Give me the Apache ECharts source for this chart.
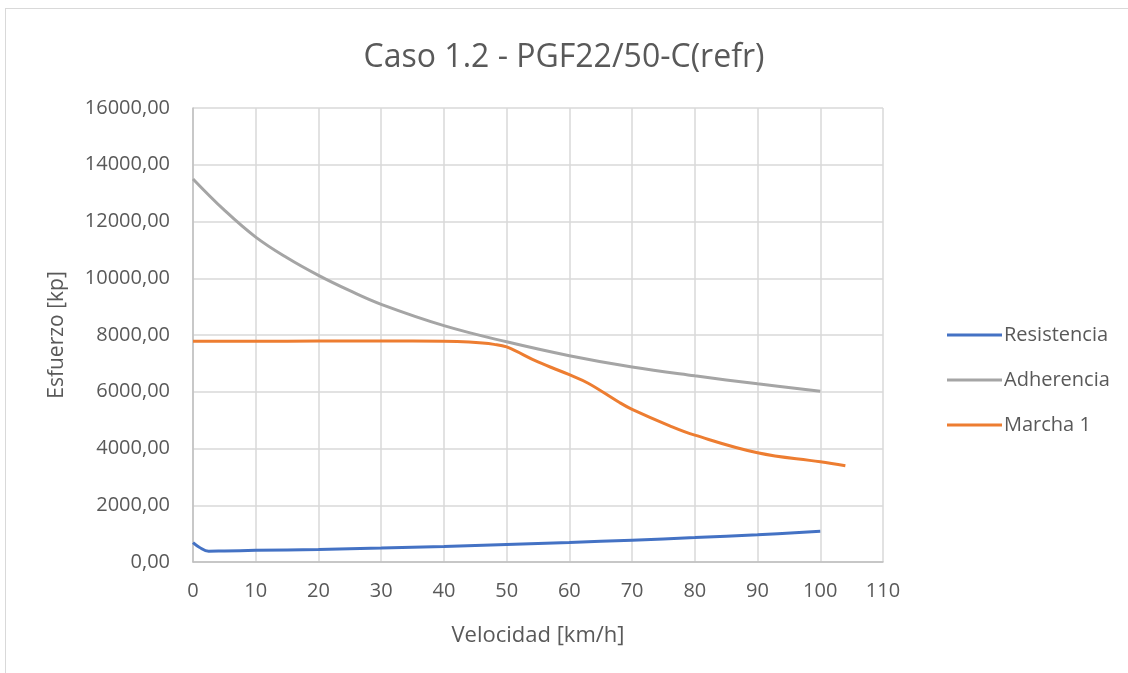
<!DOCTYPE html>
<html>
<head>
<meta charset="utf-8">
<script src="https://cdn.jsdelivr.net/npm/echarts@6/dist/echarts.min.js"></script>
<style>
html, body { margin: 0; padding: 0; background: #fff; }
#marco { position: absolute; left: 5px; top: 8px; width: 1140px; height: 690px; border: 1px solid #d9d9d9; }
#grafico { position: absolute; left: 0; top: 0; width: 1128px; height: 673px; }
</style>
</head>
<body>
<div id="marco"></div>
<div id="grafico"></div>
<script>
// datos: [velocidad km/h, esfuerzo kp]
var resistencia = [
	[0, 680], [1, 520], [2.5, 380], [5, 390], [10, 410], [20, 440], [30, 490], [40, 550],
	[50, 620], [60, 690], [70, 770], [80, 860], [90, 960], [100, 1080]
];
var adherencia = [
	[0, 13500], [5, 12400], [10, 11450], [15, 10720], [20, 10100], [25, 9560], [30, 9080],
	[40, 8330], [50, 7760], [60, 7270], [70, 6870], [80, 6560], [90, 6280], [100, 6020]
];
var marcha1 = [
	[0, 7780], [10, 7780], [20, 7785], [30, 7790], [40, 7780], [44, 7750], [48, 7670],
	[50, 7580], [55, 7050], [60, 6600], [63, 6300], [68, 5620], [70, 5380],
	[76, 4800], [80, 4470], [90, 3850], [100, 3530], [104, 3390]
];
var nombres = ['Resistencia', 'Adherencia', 'Marcha 1'];
var colores = ['#4472C4', '#A5A5A5', '#ED7D31'];

var fuente = 'Open Sans';
var gris = '#595959';

var xx = echarts.init(document.getElementById('grafico'));

function serie(nombre, datos, color) {
	return {
		name: nombre,
		type: 'line',
		data: datos,
		smooth: 0.4,
		showSymbol: false,
		symbol: 'none',
		lineStyle: { color: color, width: 3 },
		itemStyle: { color: color },
		animation: false
	};
}

xx.setOption({
	title: {
		text: 'Caso 1.2 - PGF22/50-C(refr)',
		left: 'center',
		top: 37,
		textStyle: { fontFamily: fuente, fontSize: 32, fontWeight: 'normal', color: gris }
	},
	legend: {
		orient: 'vertical',
		left: 942,
		top: 320,
		itemWidth: 55,
		itemHeight: 3,
		itemGap: 25,
		icon: 'rect',
		data: nombres,
		textStyle: { fontFamily: fuente, fontSize: 20, color: gris, padding: [0, 0, 0, -3] }
	},
	grid: { left: 193, right: 245, top: 108, bottom: 111 },
	xAxis: {
		type: 'value',
		min: 0,
		max: 110,
		interval: 10,
		name: 'Velocidad [km/h]',
		nameLocation: 'middle',
		nameGap: 63,
		nameTextStyle: { fontFamily: fuente, fontSize: 22, color: gris },
		axisLine: { show: true, lineStyle: { color: '#bfbfbf', width: 1.5 } },
		axisTick: { show: false },
		axisLabel: { fontFamily: fuente, fontSize: 20, color: gris, margin: 19 },
		splitLine: { show: true, lineStyle: { color: '#d9d9d9', width: 1.5 } }
	},
	yAxis: {
		type: 'value',
		min: 0,
		max: 16000,
		interval: 2000,
		name: 'Esfuerzo [kp]',
		nameLocation: 'middle',
		nameGap: 125,
		nameTextStyle: { fontFamily: fuente, fontSize: 21, color: gris },
		axisLine: { show: true, lineStyle: { color: '#bfbfbf', width: 1.5 } },
		axisTick: { show: false },
		axisLabel: {
			fontFamily: fuente, fontSize: 20, color: gris, margin: 23,
			formatter: function (v) { return v.toFixed(2).replace('.', ','); }
		},
		splitLine: { show: true, lineStyle: { color: '#d9d9d9', width: 1.5 } }
	},
	series: [
		serie(nombres[0], resistencia, colores[0]),
		serie(nombres[1], adherencia, colores[1]),
		serie(nombres[2], marcha1, colores[2])
	]
});
</script>
</body>
</html>
